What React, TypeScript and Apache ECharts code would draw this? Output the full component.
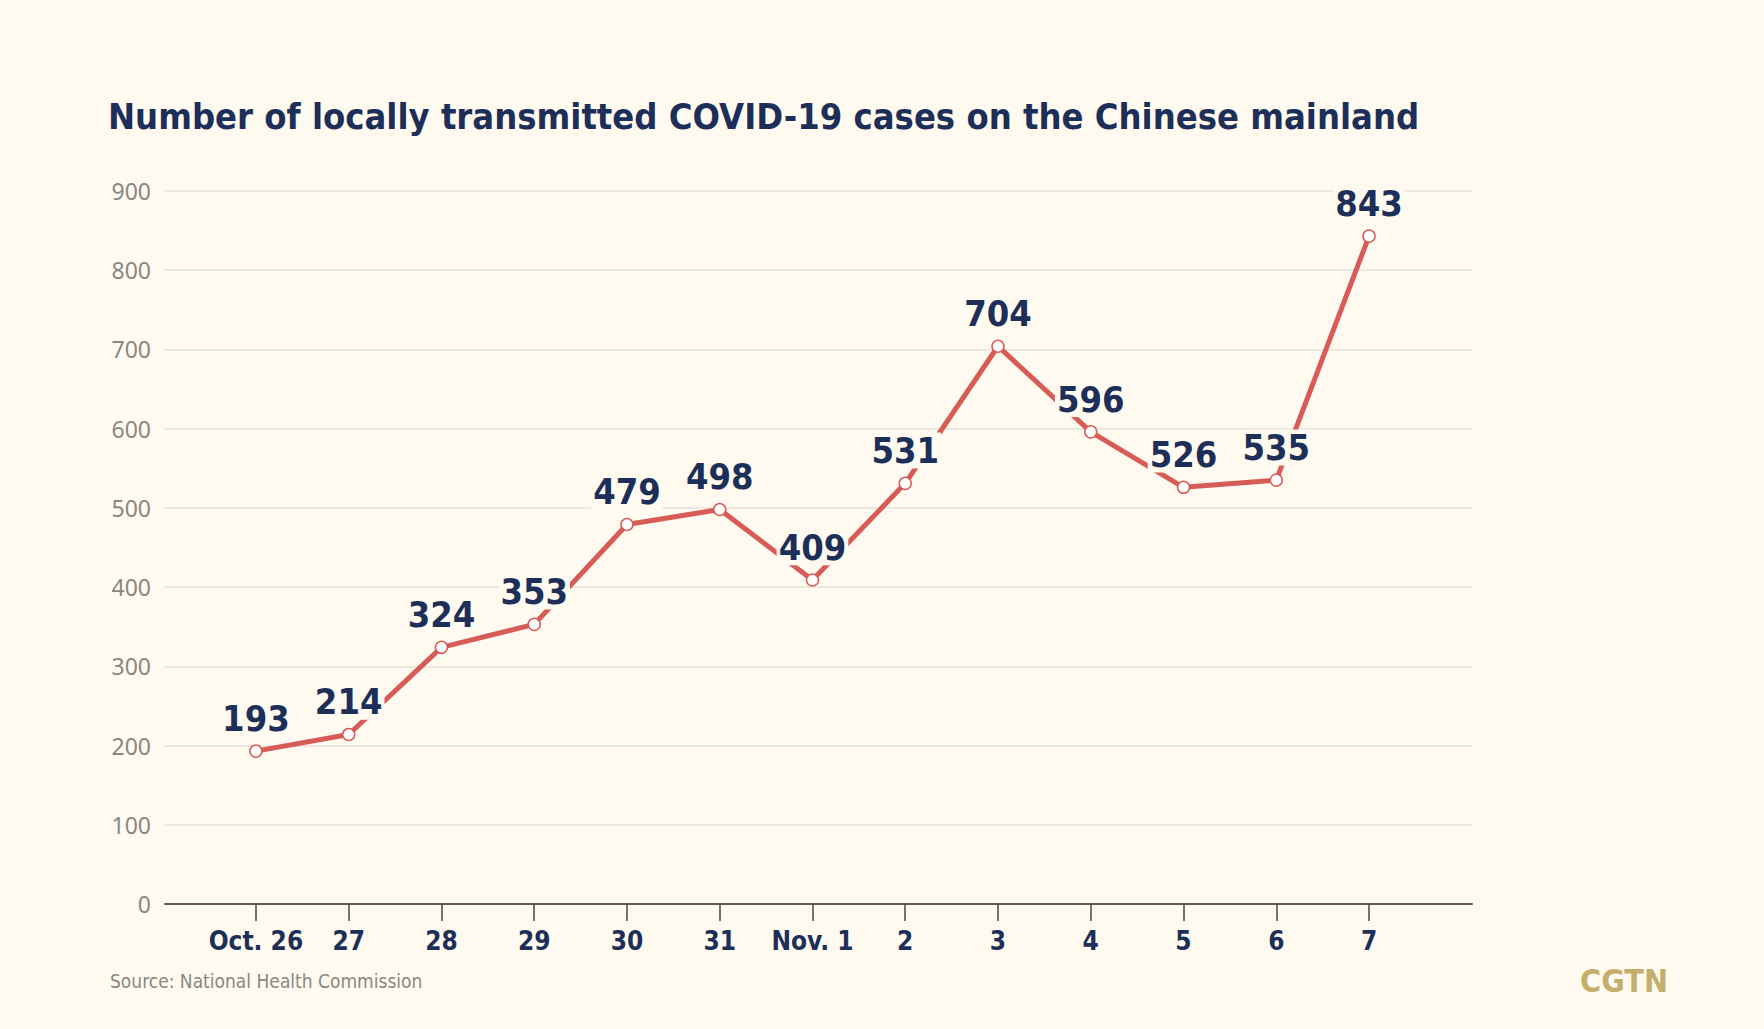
import React, { useEffect, useRef } from "react";
import * as echarts from "echarts";

const categories = ["Oct. 26", "27", "28", "29", "30", "31", "Nov. 1", "2", "3", "4", "5", "6", "7"];
const cases = [193, 214, 324, 353, 479, 498, 409, 531, 704, 596, 526, 535, 843];
const yTicks = [0, 100, 200, 300, 400, 500, 600, 700, 800, 900];

const TITLE = "Number of locally transmitted COVID-19 cases on the Chinese mainland";
const SOURCE = "Source: National Health Commission";
const BRAND = "CGTN";

const BG = "#fefaef";
const NAVY = "#1d2f58";
const RED = "#d75c58";
const COND = "'DejaVu Sans Condensed', 'DejaVu Sans', sans-serif";

export default function App() {
  const ref = useRef<HTMLDivElement>(null);
  useEffect(() => {
    document.body.style.margin = "0";
    document.body.style.background = BG;
    if (!ref.current) return;
    const chart = echarts.init(ref.current, null, { renderer: "svg" });
    const idx = categories.map((_, i) => i);
    chart.setOption({
      animation: false,
      backgroundColor: BG,
      title: {
        text: TITLE,
        left: 103,
        top: 93,
        textStyle: { fontFamily: COND, fontWeight: "bold", fontSize: 36, color: NAVY },
      },
      grid: { left: 165, right: 1764 - 1472, top: 191, bottom: 1029 - 904, containLabel: false },
      xAxis: {
        type: "value",
        min: -0.98,
        max: 13.11,
        splitLine: { show: false },
        axisLine: { show: true, lineStyle: { color: "#5a5a5a", width: 2 } },
        axisTick: { show: true, customValues: idx, length: 17, inside: false, lineStyle: { color: "#444", width: 1.5 } },
        axisLabel: {
          customValues: idx,
          margin: 24,
          formatter: (v: number) => categories[Math.round(v)] ?? "",
          fontFamily: COND,
          fontWeight: "bold",
          fontSize: 26,
          color: NAVY,
        },
      },
      yAxis: {
        type: "value",
        min: 0,
        max: 900,
        interval: 100,
        axisLine: { show: false },
        axisTick: { show: false },
        axisLabel: {
          customValues: yTicks,
          margin: 14,
          fontFamily: "'Noto Sans', sans-serif",
          fontSize: 23,
          color: "#8a8783",
        },
        splitLine: { show: true, lineStyle: { color: "#e6e2d8", width: 1.5 } },
      },
      series: [
        {
          type: "line",
          data: cases.map((v, i) => [i, v]),
          lineStyle: { color: RED, width: 5 },
          itemStyle: { color: "#ffffff", borderColor: RED, borderWidth: 1.5 },
          symbol: "circle",
          symbolSize: 12,
          z: 3,
          label: {
            show: true,
            position: "top",
            distance: 8,
            formatter: (p: any) => String(p.value[1]),
            fontFamily: COND,
            fontWeight: "bold",
            fontSize: 36,
            color: NAVY,
            backgroundColor: BG,
            padding: [0, 2, 0, 2],
          },
        },
      ],
      graphic: [
        {
          type: "text",
          left: 110,
          top: 971,
          style: { text: SOURCE, fontFamily: COND, fontSize: 19, fill: "#8a8783" },
        },
        {
          type: "text",
          right: 1764 - 1668,
          top: 965,
          style: { text: BRAND, fontFamily: COND, fontWeight: "bold", fontSize: 32, fill: "#c3ae6c" },
        },
      ],
    });
    return () => chart.dispose();
  }, []);
  return <div ref={ref} style={{ width: 1764, height: 1029 }} />;
}
